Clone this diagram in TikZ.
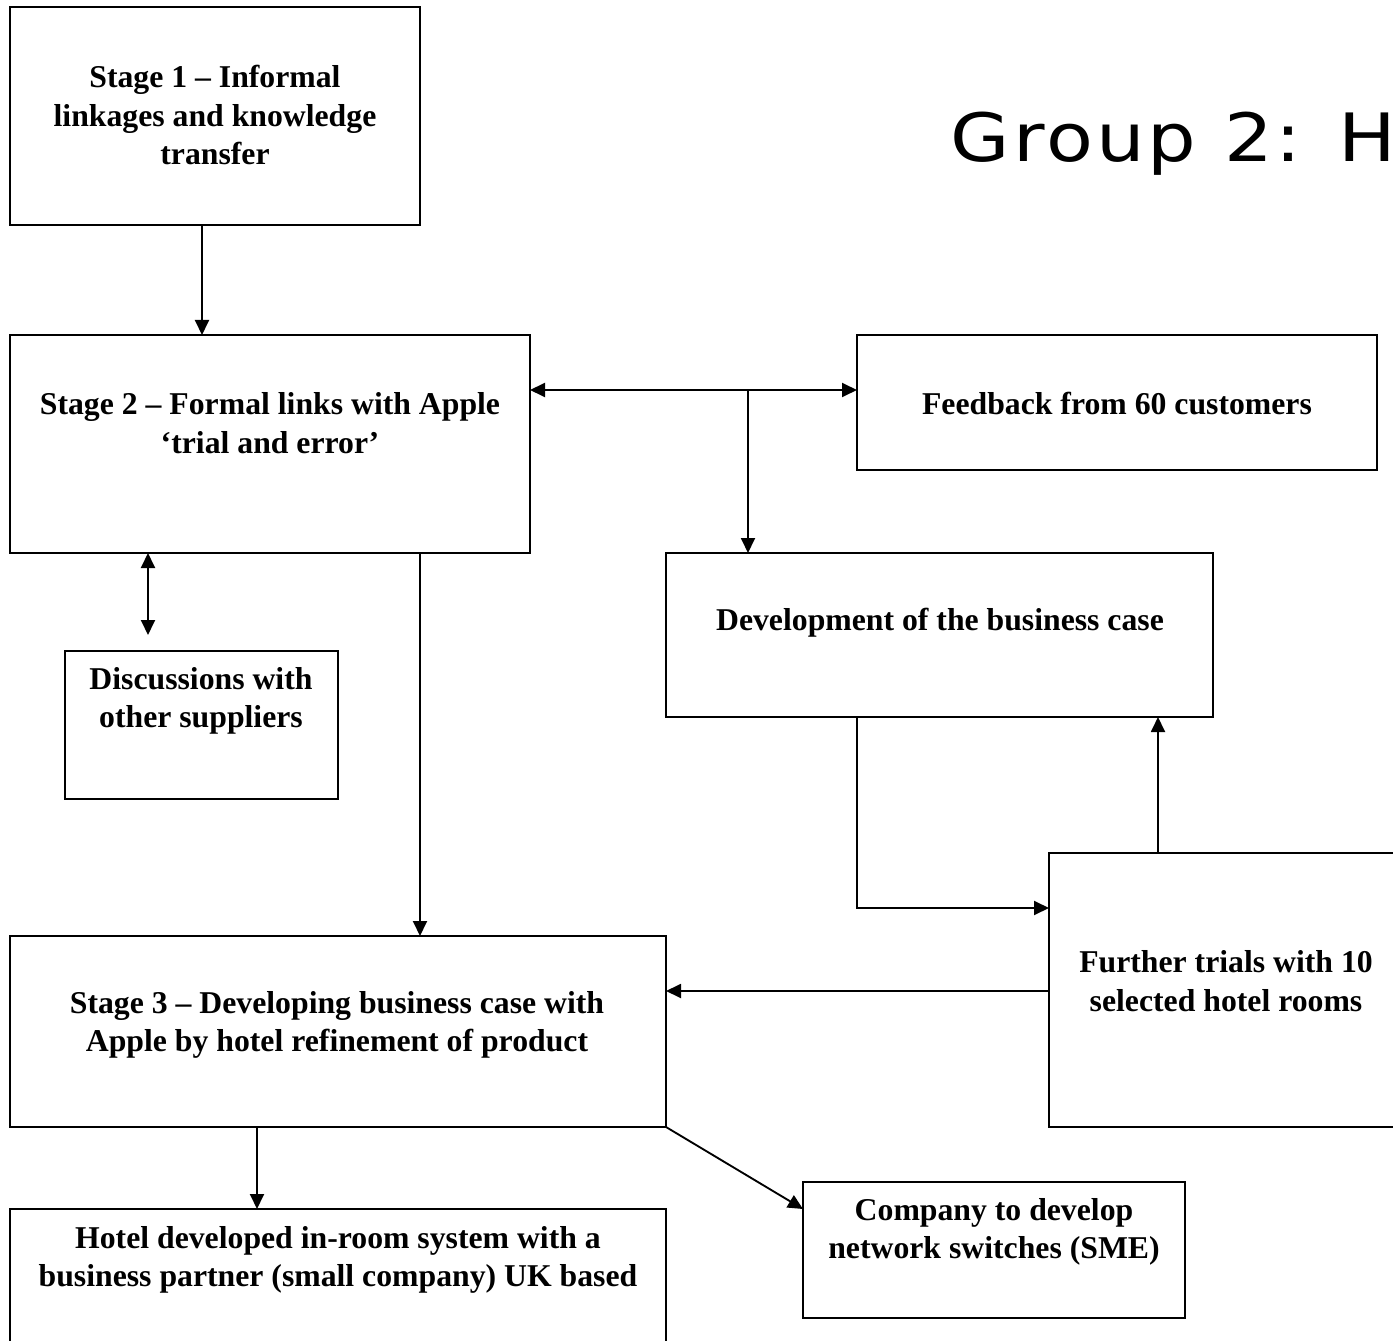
\documentclass[tikz,border=0pt]{standalone}
\usepackage{fontspec}
\setmainfont{Liberation Serif}
\newfontfamily\titlefont[LetterSpace=4]{DejaVu Sans}
\usetikzlibrary{arrows.meta}

\tikzset{every picture/.style={line width=1.4pt}}
\tikzset{
  box/.style={draw, rectangle, inner sep=0pt, outer sep=0pt, anchor=north west},
  txt/.style={align=center, inner sep=0pt, font=\fontsize{23.8}{29}\selectfont\bfseries},
  arr/.style={-{Triangle[length=11.25pt,width=10.5pt]}},
  dbl/.style={{Triangle[length=11.25pt,width=10.5pt]}-{Triangle[length=11.25pt,width=10.5pt]}}
}

\begin{document}
\begin{tikzpicture}[x=0.75pt,y=0.75pt,yscale=-1,xscale=1]
\useasboundingbox (0,0) rectangle (1393,1341);
\clip (0,0) rectangle (1393,1341);

%Shape: Rectangle [stage 1]
\node[box, minimum width=307.5pt, minimum height=163.5pt] (s1) at (10,7) {};
%Shape: Rectangle [stage 2]
\node[box, minimum width=390pt, minimum height=163.5pt] (s2) at (10,335) {};
%Shape: Rectangle [feedback]
\node[box, minimum width=390pt, minimum height=101.25pt] (fb) at (857,335) {};
%Shape: Rectangle [business case]
\node[box, minimum width=410.25pt, minimum height=123pt] (dev) at (666,553) {};
%Shape: Rectangle [suppliers]
\node[box, minimum width=204.75pt, minimum height=111pt] (disc) at (65,651) {};
%Shape: Rectangle [stage 3]
\node[box, minimum width=492pt, minimum height=143.25pt] (s3) at (10,936) {};
%Shape: Rectangle [trials]
\node[box, minimum width=263.25pt, minimum height=205.5pt] (ft) at (1049,853) {};
%Shape: Rectangle [in-room system]
\node[box, minimum width=492pt, minimum height=105.75pt] (hot) at (10,1209) {};
%Shape: Rectangle [network switches]
\node[box, minimum width=286.5pt, minimum height=102pt] (co) at (803,1182) {};

%Guide points for the connectors
\coordinate (c1) at (202,0);
\coordinate (c2) at (0,390);
\coordinate (c3) at (748,390);
\coordinate (c5) at (148,635);
\coordinate (c6) at (420,0);
\coordinate (c7) at (857,908);
\coordinate (c8) at (1158,0);
\coordinate (c9) at (0,991);
\coordinate (c10) at (257,0);
\coordinate (c11) at (0,1209);

%Straight Lines
\draw[arr] (s1.south -| c1) -- (s2.north -| c1);
\draw[dbl] (s2.east |- c2) -- (fb.west |- c2);
\draw[arr] (c3) -- (c3 |- dev.north);
\draw[dbl] (s2.south -| c5) -- (c5);
\draw[arr] (s2.south -| c6) -- (s3.north -| c6);
\draw[arr] (dev.south -| c7) -- (c7) -- (c7 -| ft.west);
\draw[arr] (ft.north -| c8) -- (dev.south -| c8);
\draw[arr] (ft.west |- c9) -- (s3.east |- c9);
\draw[arr] (s3.south -| c10) -- (hot.north -| c10);
\draw[arr] (s3.south east) -- (co.west |- c11);

% Text Node
\node[txt] (s1t) at (215,115) {Stage 1 – Informal\\linkages and knowledge\\transfer};
% Text Node
\node[txt] (s2t) at (270,423) {Stage 2 – Formal links with Apple\\‘trial and error’};
% Text Node
\node[txt] (fbt) at (1117,404) {Feedback from 60 customers};
% Text Node
\node[txt] (devt) at (940,623) {Development of the business case};
% Text Node
\node[txt] (disct) at (201,701) {Discussions with\\other suppliers};
% Text Node
\node[txt] (s3t) at (337,1025) {Stage 3 – Developing business case with\\Apple by hotel refinement of product};
% Text Node
\node[txt] (ftt) at (1226,981) {Further trials with 10\\selected hotel rooms};
% Text Node
\node[txt] (hott) at (338,1260) {Hotel developed in-room system with a\\business partner (small company) UK based};
% Text Node
\node[txt] (cot) at (994,1232) {Company to develop\\network switches (SME)};
% Text Node
\node[anchor=base west, inner sep=0pt, font=\titlefont\fontsize{50}{60}\selectfont] (ttl) at (950,162) {\scalebox{1.15}[1]{Group 2: H}};

\end{tikzpicture}
\end{document}
